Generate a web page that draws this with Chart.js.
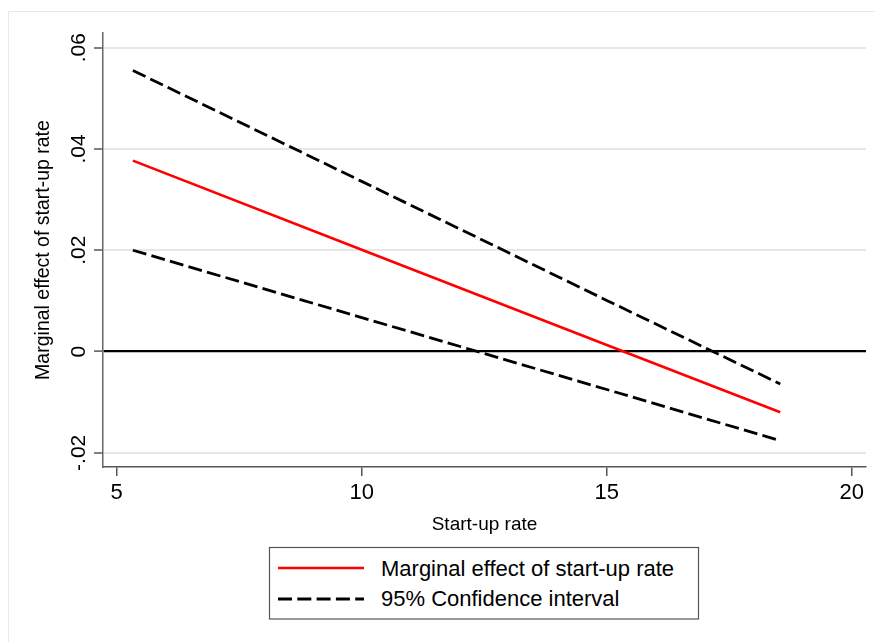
<!DOCTYPE html>
<html><head><meta charset="utf-8">
<script src="https://cdn.jsdelivr.net/npm/chart.js@4.4.1/dist/chart.umd.min.js"></script>
<style>
html,body{margin:0;padding:0;background:#fff;}
#wrap{position:relative;width:875px;height:642px;overflow:hidden;}
#c{position:absolute;left:0;top:0;}
#overlay{position:absolute;left:0;top:0;pointer-events:none;}
</style></head><body>
<div id="wrap"><canvas id="c" width="875" height="642"></canvas>
<svg id="overlay" width="875" height="642" xmlns="http://www.w3.org/2000/svg"></svg></div>
<script>
// ---- data ----
const startupRate    = [5.33, 10, 15, 18.54];
const marginalEffect = [0.0377, 0.0201, 0.0013, -0.0120];
const ciUpper        = [0.0555, 0.0336, 0.0101, -0.0064];
const ciLower        = [0.0200, 0.0067, -0.0075, -0.0176];
const xTickValues = [5, 10, 15, 20];
const xTickLabels = ['5', '10', '15', '20'];
const yTickValues = [-0.02, 0, 0.02, 0.04, 0.06];
const yTickLabels = ['-.02', '0', '.02', '.04', '.06'];
const xTitle = 'Start-up rate';
const yTitle = 'Marginal effect of start-up rate';
const effectLabel = 'Marginal effect of start-up rate';
const ciLabel = '95% Confidence interval';

const toPoints = ys => startupRate.map((x, i) => ({x: x, y: ys[i]}));

Chart.defaults.font.family = "'Liberation Sans', Arial, Helvetica, sans-serif";
Chart.defaults.color = '#000';

const datasets = [
  {label: effectLabel, data: toPoints(marginalEffect), borderColor: '#ff0000', borderWidth: 2.6, borderDash: []},
  {label: ciLabel, data: toPoints(ciUpper), borderColor: '#000000', borderWidth: 2.8, borderDash: [14, 5.3]},
  {label: ciLabel, data: toPoints(ciLower), borderColor: '#000000', borderWidth: 2.8, borderDash: [14, 5.3]}
];

const chart = new Chart(document.getElementById('c'), {
  type: 'line',
  data: {datasets: datasets},
  options: {
    responsive: false,
    animation: false,
    layout: {padding: {top: 33, right: 9, bottom: 100, left: 0}},
    plugins: {legend: {display: false}, tooltip: {enabled: false}},
    elements: {point: {radius: 0, hoverRadius: 0}, line: {tension: 0, fill: false}},
    scales: {
      x: {
        type: 'linear', min: 4.72, max: 20.29,
        afterBuildTicks: s => { s.ticks = xTickValues.map(v => ({value: v})); },
        afterFit: s => { s.height = 75; s.paddingLeft = 0; s.paddingRight = 0; },
        ticks: {autoSkip: false, minRotation: 0, maxRotation: 0, padding: 4.2,
                font: {size: 22}, color: '#000', callback: (v, i) => xTickLabels[i]},
        grid: {drawOnChartArea: false, drawTicks: true, tickLength: 9, tickColor: '#555', tickWidth: 1.5, lineWidth: 1.5},
        border: {display: true, color: '#555', width: 1.5},
        title: {display: true, text: xTitle, font: {size: 19}, color: '#000', padding: {top: 0, bottom: 5.5}}
      },
      y: {
        type: 'linear', min: -0.0228, max: 0.0629,
        afterBuildTicks: s => { s.ticks = yTickValues.map(v => ({value: v})); },
        afterFit: s => { s.width = 103; s.paddingTop = 0; s.paddingBottom = 0; },
        ticks: {autoSkip: false, minRotation: 90, maxRotation: 90, crossAlign: 'center', padding: -3.2,
                font: {size: 21}, color: '#000', callback: (v, i) => yTickLabels[i]},
        grid: {
          color: c => (c.tick && c.tick.value === 0) ? '#000000' : '#e6e6e6',
          lineWidth: c => (c.tick && c.tick.value === 0) ? 2.2 : 2,
          drawTicks: true, tickLength: 9, tickColor: '#555', tickWidth: 1.5
        },
        border: {display: true, color: '#666', width: 1.5},
        title: {display: true, text: yTitle, font: {size: 19.5}, color: '#000', padding: {top: 32, bottom: 0}}
      }
    }
  }
});

// ---- frame and legend (built from the chart's datasets) ----
const svg = document.getElementById('overlay');
const NS = 'http://www.w3.org/2000/svg';
function el(tag, attrs, text) {
  const e = document.createElementNS(NS, tag);
  for (const k in attrs) e.setAttribute(k, attrs[k]);
  if (text !== undefined) e.textContent = text;
  svg.appendChild(e);
  return e;
}
el('path', {d: 'M8.5 642 L8.5 11.5 L875 11.5', fill: 'none', stroke: '#e8e8e8', 'stroke-width': 1});
el('rect', {x: 269.5, y: 547.5, width: 429, height: 71.5, fill: '#fff', stroke: '#555', 'stroke-width': 1.2});
const seen = [];
chart.data.datasets.forEach(ds => { if (!seen.find(d => d.label === ds.label)) seen.push(ds); });
const rows = [{ly: 568, by: 576}, {ly: 599, by: 606}];
seen.forEach((ds, i) => {
  const r = rows[i];
  el('line', {x1: 278, x2: 364, y1: r.ly, y2: r.ly, stroke: ds.borderColor, 'stroke-width': ds.borderWidth,
              'stroke-dasharray': (ds.borderDash && ds.borderDash.length) ? ds.borderDash.join(' ') : 'none'});
  el('text', {x: 381, y: r.by, 'font-family': "'Liberation Sans', Arial, sans-serif", 'font-size': 22, fill: '#000'}, ds.label);
});
</script>
</body></html>
